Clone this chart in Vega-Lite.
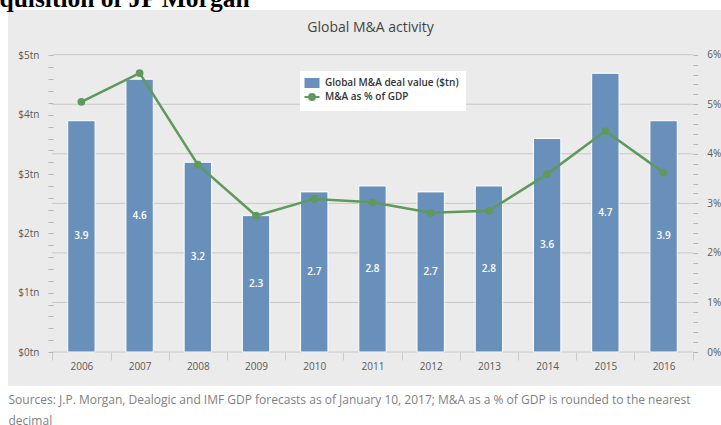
{
  "$schema": "https://vega.github.io/schema/vega-lite/v6.json",
  "width": 713,
  "height": 376,
  "autosize": {"type": "none"},
  "padding": {"left": 8, "top": 10, "right": 0, "bottom": 39},
  "background": "#ffffff",
  "title": {"text": "Global M&A activity", "anchor": "middle", "frame": "group", "offset": -60, "dx": 6, "fontSize": 14, "fontWeight": "normal", "color": "#444444", "font": "Open Sans", "baseline": "alphabetic"},
  "data": {"values": [
    {"year": "2006", "value": 3.9, "pct": 5.05},
    {"year": "2007", "value": 4.6, "pct": 5.63},
    {"year": "2008", "value": 3.2, "pct": 3.78},
    {"year": "2009", "value": 2.3, "pct": 2.75},
    {"year": "2010", "value": 2.7, "pct": 3.09},
    {"year": "2011", "value": 2.8, "pct": 3.02},
    {"year": "2012", "value": 2.7, "pct": 2.81},
    {"year": "2013", "value": 2.8, "pct": 2.85},
    {"year": "2014", "value": 3.6, "pct": 3.59},
    {"year": "2015", "value": 4.7, "pct": 4.46},
    {"year": "2016", "value": 3.9, "pct": 3.62}
  ]},
  "encoding": {
    "x": {
      "field": "year", "type": "nominal",
      "scale": {"type": "band", "paddingInner": 0, "paddingOuter": 0.6235, "align": 0.61},
      "axis": {
        "title": ["Sources: J.P. Morgan, Dealogic and IMF GDP forecasts as of January 10, 2017; M&A as a % of GDP is rounded to the nearest", "decimal"],
        "titleX": 0, "titleY": 51, "titleAlign": "left", "titleAnchor": "start", "titleBaseline": "alphabetic",
        "titleFont": "Open Sans", "titleFontSize": 12, "titleFontWeight": "normal", "titleColor": "#7f7f7f", "titleLineHeight": 21,
        "offset": -34, "domain": false, "grid": false, "tickBand": "extent", "tickSize": 8, "tickColor": "#c5cbd2",
        "labelAngle": 0, "labelPadding": 1, "labelFontSize": 10, "labelColor": "#595959", "labelFont": "Open Sans"
      }
    }
  },
  "layer": [
    {
      "data": {"values": [{"grid": 0}, {"grid": 1}, {"grid": 2}, {"grid": 3}, {"grid": 4}, {"grid": 5}, {"grid": 6}]},
      "mark": {"type": "rule", "color": "#c8c8c8", "strokeWidth": 1},
      "encoding": {
        "x": {"datum": "2006", "bandPosition": 0},
        "x2": {"datum": "2016", "bandPosition": 1},
        "y": {"field": "grid", "type": "quantitative", "scale": {"domain": [-0.686, 6.902], "nice": false, "zero": false}, "axis": null}
      }
    },
    {
      "mark": {"type": "bar", "width": {"band": 0.47}, "stroke": "#ffffff", "strokeWidth": 1},
      "encoding": {
        "y": {
          "field": "value", "type": "quantitative",
          "scale": {"domain": [-0.573, 5.767], "nice": false, "zero": false},
          "axis": {
            "orient": "left", "offset": -45,
            "values": [0, 0.2, 0.4, 0.6, 0.8, 1, 1.2, 1.4, 1.6, 1.8, 2, 2.2, 2.4, 2.6, 2.8, 3, 3.2, 3.4, 3.6, 3.8, 4, 4.2, 4.4, 4.6, 4.8, 5],
            "labelExpr": "abs(datum.value - round(datum.value)) < 0.001 ? '$' + round(datum.value) + 'tn' : ''",
            "domain": false, "grid": false, "tickSize": 5, "tickColor": "#b8b8b8",
            "labelPadding": 9, "labelFontSize": 10, "labelColor": "#595959", "labelFont": "Open Sans",
            "title": "quisition of JP Morgan", "titleAngle": 0, "titleX": -54, "titleY": -4,
            "titleAlign": "left", "titleBaseline": "alphabetic", "titleFont": "Liberation Serif",
            "titleFontSize": 25.5, "titleFontWeight": "bold", "titleColor": "#000000"
          }
        },
        "color": {
          "datum": "Global M&A deal value ($tn)",
          "scale": {"domain": ["Global M&A deal value ($tn)", "M&A as % of GDP"], "range": ["#6890ba", "#5f9a5c"]},
          "legend": {
            "orient": "none", "legendX": 292, "legendY": 61, "title": null,
            "fillColor": "#ffffff", "padding": 7, "symbolSize": 144, "labelOffset": 8, "rowPadding": 2,
            "labelFontSize": 10, "labelFont": "Open Sans", "labelColor": "#333333", "labelFontWeight": 600,
            "symbolType": {"expr": "datum.value === 'M&A as % of GDP' ? 'M-1.25,0H1.25M-0.5,0A0.5,0.5 0 1,0 0.5,0A0.5,0.5 0 1,0 -0.5,0' : 'M-1.25,-0.83H1.25V0.83H-1.25Z'"},
            "symbolStrokeWidth": {"expr": "datum.value === 'M&A as % of GDP' ? 2 : 0"},
            "symbolStrokeColor": {"expr": "scale('color', datum.value)"},
            "symbolFillColor": {"expr": "scale('color', datum.value)"},
            "symbolOpacity": 1
          }
        }
      }
    },
    {
      "mark": {"type": "text", "color": "#ffffff", "fontSize": 10, "fontWeight": 600, "baseline": "middle", "font": "Open Sans"},
      "encoding": {
        "y": {"field": "value", "type": "quantitative", "scale": {"domain": [-1.146, 11.534], "nice": false, "zero": false}, "axis": null},
        "text": {"field": "value", "type": "quantitative", "format": ".1f"}
      }
    },
    {
      "mark": {"type": "line", "strokeWidth": 2.5, "point": {"filled": true, "size": 60}},
      "encoding": {
        "y": {
          "field": "pct", "type": "quantitative",
          "scale": {"domain": [-0.686, 6.902], "nice": false, "zero": false},
          "axis": {
            "orient": "right", "offset": -28.3, "title": null,
            "values": [0, 0.2, 0.4, 0.6, 0.8, 1, 1.2, 1.4, 1.6, 1.8, 2, 2.2, 2.4, 2.6, 2.8, 3, 3.2, 3.4, 3.6, 3.8, 4, 4.2, 4.4, 4.6, 4.8, 5, 5.2, 5.4, 5.6, 5.8, 6],
            "labelExpr": "abs(datum.value - round(datum.value)) < 0.001 ? round(datum.value) + '%' : ''",
            "domain": false, "grid": false, "tickSize": 5, "tickColor": "#b8b8b8",
            "labelPadding": 9, "labelFontSize": 10, "labelColor": "#595959", "labelFont": "Open Sans"
          }
        },
        "color": {"datum": "M&A as % of GDP"}
      }
    }
  ],
  "resolve": {"scale": {"y": "independent"}},
  "config": {
    "font": "Open Sans",
    "view": {"fill": "#ebebeb", "stroke": null}
  }
}
